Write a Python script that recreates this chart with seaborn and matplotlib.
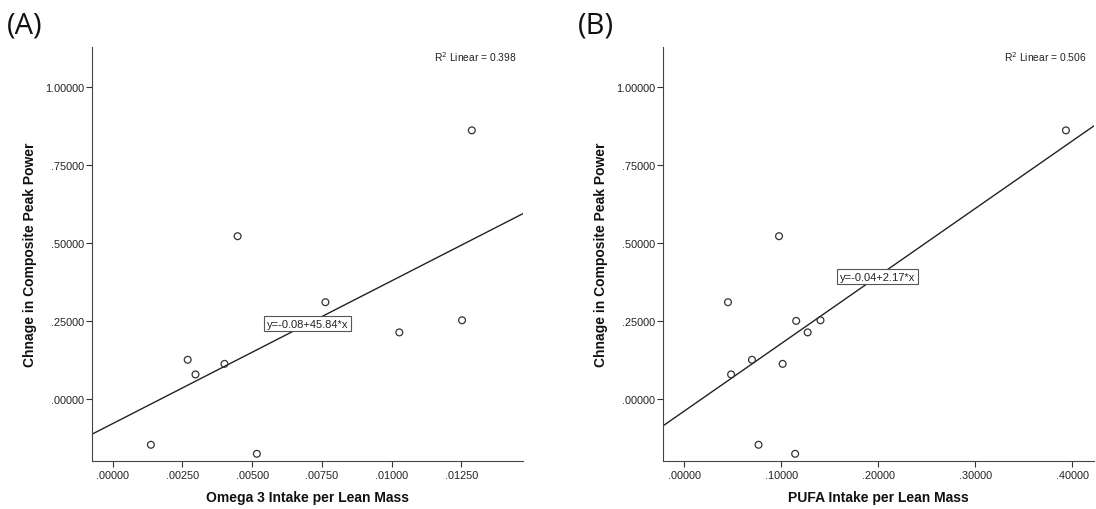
import matplotlib
matplotlib.use("Agg")
import matplotlib.pyplot as plt
import seaborn as sns
import pandas as pd

sns.set_theme(style="white")
plt.rcParams['font.family'] = ['Liberation Sans', 'DejaVu Sans']

# ---- data ----
omega3 = [0.00137, 0.00269, 0.00297, 0.00401, 0.00448, 0.00517, 0.00763, 0.01028, 0.01253, 0.01288]
omega3_change = [-0.148, 0.125, 0.078, 0.112, 0.522, -0.177, 0.310, 0.213, 0.252, 0.862]

pufa = [0.0452, 0.0484, 0.0699, 0.0767, 0.0978, 0.1015, 0.1144, 0.1155, 0.1273, 0.1405, 0.3935]
pufa_change = [0.310, 0.078, 0.125, -0.148, 0.522, 0.112, -0.177, 0.250, 0.213, 0.252, 0.862]

fit_a = (-0.08, 45.84)
fit_b = (-0.04, 2.17)
r2_a = 0.398
r2_b = 0.506

y_ticks = [0.0, 0.25, 0.5, 0.75, 1.0]
y_ticklabels = [".00000", ".25000", ".50000", ".75000", "1.00000"]
xa_ticks = [0.0, 0.0025, 0.005, 0.0075, 0.01, 0.0125]
xa_ticklabels = [".00000", ".00250", ".00500", ".00750", ".01000", ".01250"]
xb_ticks = [0.0, 0.1, 0.2, 0.3, 0.4]
xb_ticklabels = [".00000", ".10000", ".20000", ".30000", ".40000"]

ylabel = "Chnage in Composite Peak Power"
xa_label = "Omega 3 Intake per Lean Mass"
xb_label = "PUFA Intake per Lean Mass"

W, H = 1096, 510
fig = plt.figure(figsize=(W / 100, H / 100), dpi=100)
ax_a = fig.add_axes([91.5 / W, 1 - 462 / H, (523.4 - 91.5) / W, (462 - 48) / H])
ax_b = fig.add_axes([662.5 / W, 1 - 462 / H, (1093.9 - 662.5) / W, (462 - 48) / H])

panels = [
    (ax_a, omega3, omega3_change, fit_a, r2_a, xa_ticks, xa_ticklabels, xa_label,
     (-0.00076, 0.01473), (0.00699, 0.241), "(A)", 7 / W),
    (ax_b, pufa, pufa_change, fit_b, r2_b, xb_ticks, xb_ticklabels, xb_label,
     (-0.0223, 0.4223), (0.1996, 0.3925), "(B)", 578 / W),
]

for ax, xs, ys, fit, r2, xt, xtl, xl, xlim, eqpos, tag, tagx in panels:
    df = pd.DataFrame({"x": xs, "y": ys})
    sns.scatterplot(data=df, x="x", y="y", ax=ax, marker="o", s=24,
                    facecolor="none", edgecolor="#333333", linewidth=0.9, zorder=3)
    ax.axline((0, fit[0]), slope=fit[1], color="#222222", lw=1.0, zorder=2)
    ax.set_xlim(*xlim)
    ax.set_ylim(-0.2001, 1.1298)
    ax.set_xticks(xt)
    ax.set_xticklabels(xtl)
    ax.set_yticks(y_ticks)
    ax.set_yticklabels(y_ticklabels)
    ax.tick_params(axis="x", direction="out", length=4.3, width=0.8,
                   color="#333333", labelsize=7.8, labelcolor="#222222", pad=2.2,
                   bottom=True)
    ax.tick_params(axis="y", direction="out", length=4.3, width=0.8,
                   color="#333333", labelsize=7.8, labelcolor="#222222", pad=0.8,
                   left=True)
    for side in ["top", "right"]:
        ax.spines[side].set_visible(False)
    for side in ["left", "bottom"]:
        ax.spines[side].set_color("#444444")
        ax.spines[side].set_linewidth(0.8)
    ax.set_xlabel(xl, fontsize=10, fontweight="bold", color="#111111", labelpad=7)
    ax.set_ylabel(ylabel, fontsize=10, fontweight="bold", color="#111111", labelpad=6)
    ax.text(eqpos[0], eqpos[1], "y=-%.2f+%.2f*x" % (-fit[0], fit[1]),
            fontsize=8, ha="center", va="center", color="#222222", zorder=4,
            bbox=dict(boxstyle="square,pad=0.25", facecolor="white",
                      edgecolor="#555555", linewidth=0.8))
    ax.text(0.984, 0.978, "R$^2$ Linear = %.3f" % r2, transform=ax.transAxes,
            fontsize=7.4, ha="right", va="center", color="#222222")
    fig.text(tagx, 1 - 26 / H, tag, fontsize=21, ha="left", va="center",
             family=["Open Sans", "DejaVu Sans"], color="#111111")

fig.savefig("out.png", dpi=100, facecolor="white")
